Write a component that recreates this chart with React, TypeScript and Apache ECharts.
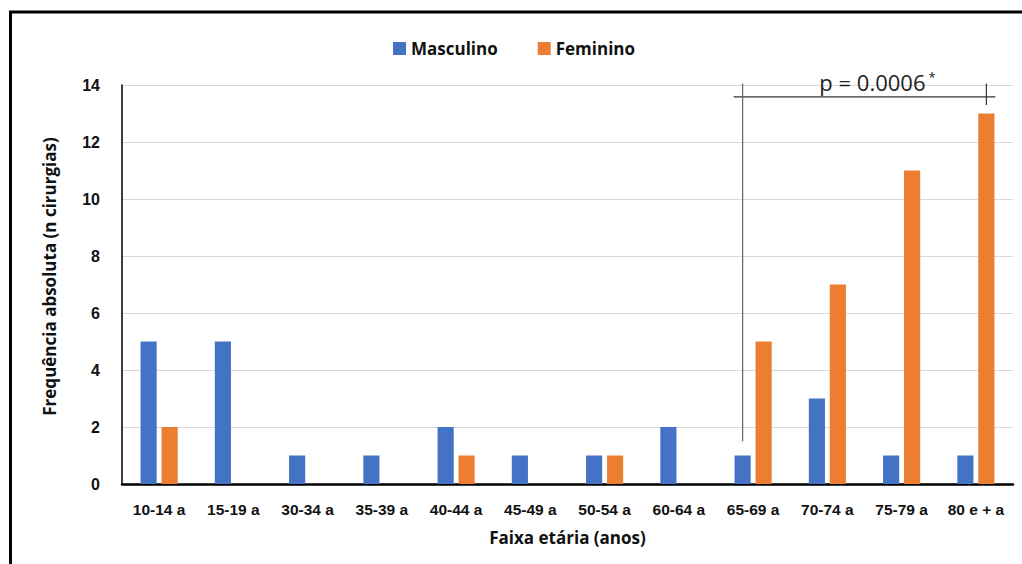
import React, { useEffect, useRef } from "react";
import * as echarts from "echarts";

const categories = ["10-14 a", "15-19 a", "30-34 a", "35-39 a", "40-44 a", "45-49 a", "50-54 a", "60-64 a", "65-69 a", "70-74 a", "75-79 a", "80 e + a"];
const masculino = [5, 5, 1, 1, 2, 1, 1, 2, 1, 3, 1, 1];
const feminino = [2, 0, 0, 0, 1, 0, 1, 0, 5, 7, 11, 13];
const yTicks = [0, 14, 2];
// bracket: [from category (masculino bar), to category (feminino bar), left leg bottom, bar level, top of legs, right leg bottom]
const bracket = [8, 11, 1.5, 13.58, 14.05, 13.3];
const pLabel = "p = 0.0006";

const BAR_CAT_GAP = 0.5;
const BAR_GAP = 0.3;

export default function App() {
  const ref = useRef<HTMLDivElement>(null);
  useEffect(() => {
    document.body.style.margin = "0";
    const chart = echarts.init(ref.current!, null, { renderer: "svg" });
    const axisFont = "'Liberation Sans', Arial, sans-serif";
    const titleFont = "'Open Sans', 'Noto Sans', sans-serif";
    chart.setOption({
      animation: false,
      backgroundColor: "#ffffff",
      graphic: [
        {
          type: "rect",
          shape: { x: 10.5, y: 12, width: 1100, height: 700 },
          style: { fill: "none", stroke: "#000", lineWidth: 3 },
          silent: true,
        },
      ],
      legend: {
        left: 388,
        top: 35,
        itemWidth: 13,
        itemHeight: 13,
        itemGap: 40,
        icon: "rect",
        textStyle: { fontFamily: titleFont, fontWeight: "bold", fontSize: 17, color: "#111" },
        data: ["Masculino", "Feminino"],
      },
      grid: { left: 122, right: 9, top: 85, bottom: 80 },
      xAxis: {
        type: "category",
        data: categories,
        axisLine: { lineStyle: { color: "#000", width: 2.5 } },
        axisTick: { show: false },
        axisLabel: { fontFamily: axisFont, fontWeight: "bold", fontSize: 15.5, color: "#111", margin: 17, interval: 0 },
        name: "Faixa etária (anos)",
        nameLocation: "middle",
        nameGap: 45,
        nameTextStyle: { fontFamily: titleFont, fontWeight: "bold", fontSize: 17, color: "#111" },
      },
      yAxis: {
        type: "value",
        min: yTicks[0],
        max: yTicks[1],
        interval: yTicks[2],
        axisLine: { show: true, lineStyle: { color: "#000", width: 1.5 } },
        axisTick: { show: false },
        splitLine: { lineStyle: { color: "#d9d9d9", width: 1 } },
        axisLabel: { fontFamily: axisFont, fontWeight: "bold", fontSize: 16, color: "#111", margin: 22 },
        name: "Frequência absoluta (n cirurgias)",
        nameLocation: "middle",
        nameGap: 64,
        nameTextStyle: { fontFamily: titleFont, fontWeight: "bold", fontSize: 17, color: "#111", padding: [0, 0, 0, 16] },
      },
      series: [
        {
          name: "Masculino",
          type: "bar",
          data: masculino,
          itemStyle: { color: "#4472C4" },
          barGap: `${BAR_GAP * 100}%`,
          barCategoryGap: `${BAR_CAT_GAP * 100}%`,
        },
        {
          name: "Feminino",
          type: "bar",
          data: feminino.map((v) => (v === 0 ? null : v)),
          itemStyle: { color: "#ED7D31" },
          barGap: `${BAR_GAP * 100}%`,
          barCategoryGap: `${BAR_CAT_GAP * 100}%`,
        },
        {
          type: "custom",
          silent: true,
          data: [bracket],
          encode: { x: 0, y: 3 },
          renderItem: (params: any, api: any) => {
            const band = api.size([1, 0])[0];
            const barW = (band * (1 - BAR_CAT_GAP)) / (2 + BAR_GAP);
            const off = (barW * (1 + BAR_GAP)) / 2;
            const [c1, c2, leftBottom, level, legTop, rightBottom] = bracket;
            const x1 = api.coord([c1, level])[0] - off;
            const x2 = api.coord([c2, level])[0] + off;
            const yLevel = api.coord([c1, level])[1];
            const yTop = api.coord([c1, legTop])[1];
            const yLeftBottom = api.coord([c1, leftBottom])[1];
            const yRightBottom = api.coord([c2, rightBottom])[1];
            const stroke = { stroke: "#333", lineWidth: 1.2 };
            return {
              type: "group",
              children: [
                { type: "line", shape: { x1: x1 - 9, y1: yLevel, x2: x2 + 9, y2: yLevel }, style: stroke },
                { type: "line", shape: { x1: x1, y1: yTop, x2: x1, y2: yLeftBottom }, style: { stroke: "#666", lineWidth: 1.2 } },
                { type: "line", shape: { x1: x2, y1: yTop, x2: x2, y2: yRightBottom }, style: stroke },
                {
                  type: "text",
                  x: (x1 + x2) / 2 + 13,
                  y: yLevel - 15,
                  style: {
                    text: `{a|${pLabel}}{s|*}`,
                    align: "center",
                    verticalAlign: "middle",
                    rich: {
                      a: { fontFamily: titleFont, fontSize: 22, fill: "#222" },
                      s: { fontFamily: titleFont, fontSize: 13, fill: "#222", verticalAlign: "top", padding: [0, 0, 10, 3] },
                    },
                  },
                },
              ],
            };
          },
        },
      ],
    });
    return () => chart.dispose();
  }, []);
  return <div ref={ref} style={{ width: 1022, height: 564 }} />;
}
